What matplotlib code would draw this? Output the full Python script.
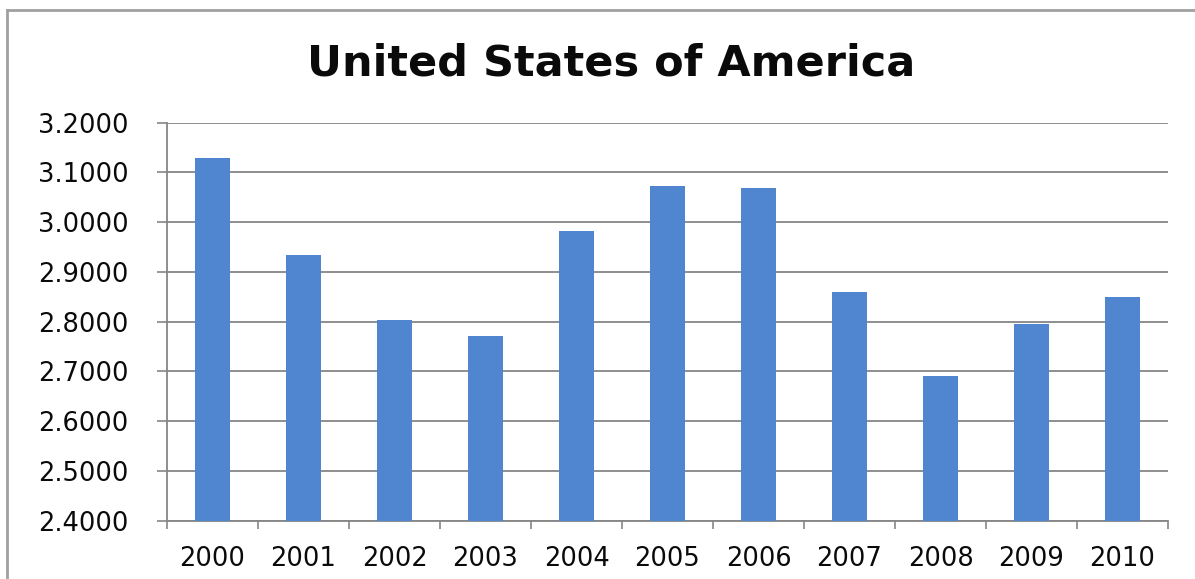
import matplotlib
matplotlib.use("Agg")
import matplotlib.pyplot as plt
from matplotlib.lines import Line2D
from matplotlib.ticker import FixedLocator, FormatStrFormatter

# data
years = ["2000", "2001", "2002", "2003", "2004", "2005",
         "2006", "2007", "2008", "2009", "2010"]
values = [3.130, 2.934, 2.804, 2.772, 2.982, 3.072,
          3.068, 2.859, 2.691, 2.795, 2.849]
y_ticks = [2.4, 2.5, 2.6, 2.7, 2.8, 2.9, 3.0, 3.1, 3.2]
title = "United States of America"

W, H = 1195, 579
fig = plt.figure(figsize=(W / 100, H / 100), dpi=100)
fig.patch.set_facecolor("white")

# axes placement in pixels of the reference
left, right, top, bottom = 167, 1168, 122.7, 520.7
ax = fig.add_axes([left / W, (H - bottom) / H, (right - left) / W, (bottom - top) / H])

x = list(range(len(years)))
ax.bar(x, values, width=0.38, color="#4F86CF", zorder=3)
ax.set_xlim(-0.5, len(years) - 0.5)
ax.set_ylim(y_ticks[0], y_ticks[-1])

ax.yaxis.set_major_locator(FixedLocator(y_ticks))
ax.yaxis.set_major_formatter(FormatStrFormatter("%.4f"))
ax.grid(axis="y", color="#868686", linewidth=1.3, zorder=0)

ax.set_xticks(x)
ax.set_xticklabels(years)
ax.set_xticks([i - 0.5 for i in range(len(years) + 1)], minor=True)
ax.tick_params(axis="x", which="major", length=0, pad=18.5,
               labelsize=18.5, labelcolor="#0a0a0a")
ax.tick_params(axis="x", which="minor", length=5.5, width=1.2, color="#868686")
ax.tick_params(axis="y", which="major", length=7.5, width=1.2, color="#868686",
               pad=20, labelsize=18.5, labelcolor="#0a0a0a")

for s in ["top", "right"]:
    ax.spines[s].set_visible(False)
for s in ["left", "bottom"]:
    ax.spines[s].set_color("#868686")
    ax.spines[s].set_linewidth(1.3)

fig.text(611 / W, 1 - 76 / H, title, ha="center", va="baseline",
         fontsize=31, fontweight="bold", color="#0a0a0a")

# outer chart frame (cropped at right and bottom)
fig.add_artist(Line2D([7 / W, 7 / W], [0, 1 - 10 / H], transform=fig.transFigure,
                      color="#A0A0A0", linewidth=2))
fig.add_artist(Line2D([7 / W, 1], [1 - 10 / H, 1 - 10 / H], transform=fig.transFigure,
                      color="#A0A0A0", linewidth=2))

fig.savefig("out.png", dpi=100)
